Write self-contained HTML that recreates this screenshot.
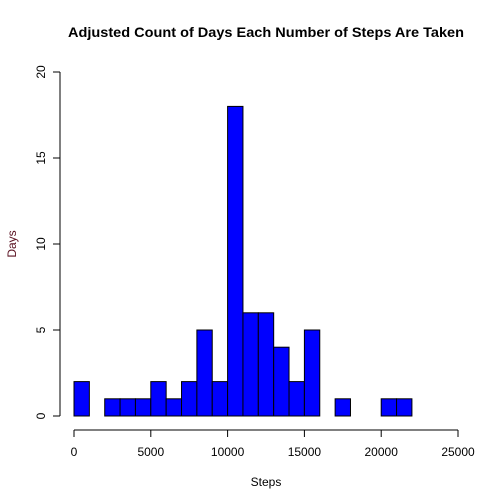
<!DOCTYPE html>
<html><head><meta charset="utf-8"><style>
body{margin:0;background:#fff}
svg{display:block;font-family:"Liberation Sans",Arial,sans-serif}
</style></head><body>
<svg id="chart" width="504" height="504" viewBox="0 0 504 504">
<rect width="504" height="504" fill="#fff"/>
<text x="266" y="37" text-anchor="middle" font-size="14" font-weight="bold" textLength="396" lengthAdjust="spacingAndGlyphs">Adjusted Count of Days Each Number of Steps Are Taken</text>
<text x="266" y="486" text-anchor="middle" font-size="12">Steps</text>
<text transform="translate(16,244) rotate(-90)" text-anchor="middle" font-size="12" fill="#5a1020">Days</text>
<g id="bars"></g><g id="xaxis"></g><g id="yaxis"></g>
</svg>
<script>
const binStarts=[0,1000,2000,3000,4000,5000,6000,7000,8000,9000,10000,11000,12000,13000,14000,15000,16000,17000,18000,19000,20000,21000];
const counts=[2,0,1,1,1,2,1,2,5,2,18,6,6,4,2,5,0,1,0,0,1,1];
const binWidth=1000;
const xTicks=[0,5000,10000,15000,20000,25000];
const yTicks=[0,5,10,15,20];
const NS="http://www.w3.org/2000/svg";
const xs=v=>74+v*(384/25000);
const ys=v=>416-v*(344/20);
function mk(tag,attrs,parent){const e=document.createElementNS(NS,tag);for(const k in attrs)e.setAttribute(k,attrs[k]);parent.appendChild(e);return e;}
const gb=document.getElementById('bars');
binStarts.forEach((b,i)=>{
  if(counts[i]<=0)return;
  const r=mk('rect',{x:xs(b),y:ys(counts[i]),width:xs(b+binWidth)-xs(b),height:ys(0)-ys(counts[i]),fill:'#0000ff',stroke:'#000','stroke-width':1},gb);
  
  
});
const gx=document.getElementById('xaxis');


mk('line',{x1:xs(xTicks[0]),x2:xs(xTicks[xTicks.length-1]),y1:430,y2:430,stroke:'#000'},gx);
xTicks.forEach(t=>{
  mk('line',{x1:xs(t),x2:xs(t),y1:430,y2:437,stroke:'#000'},gx);
  const tx=mk('text',{x:xs(t),y:456,'text-anchor':'middle','font-size':12},gx);
  tx.textContent=t;
  
  
});
const gy=document.getElementById('yaxis');


mk('line',{x1:60,x2:60,y1:ys(yTicks[0]),y2:ys(yTicks[yTicks.length-1]),stroke:'#000'},gy);
yTicks.forEach(t=>{
  mk('line',{x1:53,x2:60,y1:ys(t),y2:ys(t),stroke:'#000'},gy);
  const tx=mk('text',{transform:`translate(45,${ys(t)}) rotate(-90)`,'text-anchor':'middle','font-size':12},gy);
  tx.textContent=t;
  
  
});
</script>
</body></html>
